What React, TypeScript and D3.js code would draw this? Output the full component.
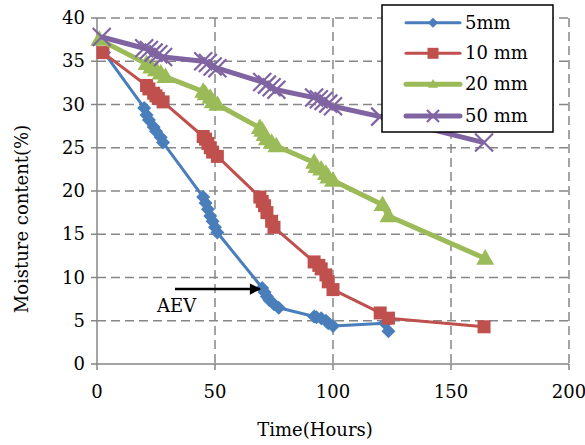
import React from "react";
import * as d3 from "d3";

// Moisture content (%) vs drying time (hours) for four slab thicknesses
const seriesNames = ["5mm", "10 mm", "20 mm", "50 mm"];
const seriesColors = ["#4a7ebb", "#c0504d", "#9bbb59", "#8064a2"];

const data5mm: [number, number][] = [
  [3, 36], [20, 29.6], [21, 28.8], [22, 28.2], [24, 27.4], [25, 26.9], [27, 26.2], [28, 25.6],
  [45, 19.3], [46, 18.6], [47, 17.9], [48, 17.1], [49, 16.5], [50, 15.8], [51, 15.2],
  [70, 8.8], [71, 8.3], [72, 7.8], [73, 7.4], [75, 6.9], [77, 6.5],
  [92, 5.5], [93, 5.4], [95, 5.3], [97, 5], [98, 4.7], [100, 4.4],
  [122, 4.7], [123.5, 3.8],
];
const data10mm: [number, number][] = [
  [2.5, 36], [21, 32.2], [22, 31.8], [24, 31.3], [25, 31], [26, 30.7], [28, 30.3],
  [45, 26.3], [46, 26], [47, 25.5], [48, 25], [49, 24.5], [51, 24],
  [69, 19.3], [70, 18.8], [71, 18.3], [72, 17.5], [74, 16.5], [75, 15.8],
  [92, 11.8], [94, 11.4], [95, 11], [97, 10.3], [98, 9.5], [100, 8.6],
  [120, 5.9], [123.5, 5.3], [164, 4.3],
];
const data20mm: [number, number][] = [
  [1, 37.5], [21, 34.7], [23, 34.3], [25, 34], [27, 33.6], [29, 33.2],
  [45, 31.5], [46, 31.2], [48, 30.8], [49, 30.3], [51, 30],
  [69, 27.3], [70, 27], [71, 26.5], [72, 26], [74, 25.6], [76, 25.2],
  [92, 23.3], [93, 22.8], [95, 22.5], [97, 22], [98, 21.6], [100, 21.2],
  [121, 18.4], [123.5, 17.1], [164.5, 12.2],
];
const data50mm: [number, number][] = [
  [2, 37.8], [20, 36.5], [22, 36.3], [24, 36], [26, 35.8], [28, 35.5],
  [45, 35], [47, 34.8], [49, 34.4], [51, 34.2],
  [70, 32.6], [72, 32.3], [74, 32], [76, 31.7],
  [92, 30.8], [94, 30.6], [96, 30.4], [98, 30.1], [100, 29.8],
  [120, 28.6], [164, 25.6],
];
const allSeries = [data5mm, data10mm, data20mm, data50mm];

const xTicks = [0, 50, 100, 150, 200];
const yTicks = [0, 5, 10, 15, 20, 25, 30, 35, 40];

const font = "'DejaVu Serif', serif";
const gridColor = "#868686";

const marker = (i: number, color: string, legend = false) => {
  if (i === 0) {
    const r = legend ? 5 : 7;
    return <path d={`M0,${-r}L${r},0L0,${r}L${-r},0Z`} fill={color} />;
  }
  if (i === 1) {
    const s = legend ? 11 : 13;
    return <rect x={-s / 2} y={-s / 2} width={s} height={s} fill={color} />;
  }
  if (i === 2) {
    const s = legend ? 10 : 18;
    const h = (s * Math.sqrt(3)) / 2;
    return <path d={`M0,${-h * 0.6}L${s / 2},${h * 0.4}L${-s / 2},${h * 0.4}Z`} fill={color} />;
  }
  const a = legend ? 6 : 9;
  return <path d={`M${-a},${-a}L${a},${a}M${-a},${a}L${a},${-a}`} stroke={color} strokeWidth={2.2} fill="none" />;
};

const lineWidths = [3, 3, 5, 5];

export default function App() {
  const width = 585;
  const height = 445;
  const left = 97;
  const right = 569;
  const top = 18;
  const bottom = 364;

  const x = d3.scaleLinear().domain([0, 200]).range([left, right]);
  const y = d3.scaleLinear().domain([0, 40]).range([bottom, top]);
  const line = d3
    .line<[number, number]>()
    .x((d) => x(d[0]))
    .y((d) => y(d[1]));

  return (
    <svg
      width={width}
      height={height}
      style={{ position: "absolute", left: 0, top: 0, background: "#fff" }}
      fontFamily={font}
    >
      {/* grid */}
      {yTicks
        .filter((t) => t > 0)
        .map((t) => (
          <line key={"gy" + t} x1={left} x2={right} y1={y(t)} y2={y(t)} stroke={gridColor} strokeWidth={1.5} strokeDasharray="9,5" />
        ))}
      {xTicks
        .filter((t) => t > 0)
        .map((t) => (
          <line key={"gx" + t} x1={x(t)} x2={x(t)} y1={top} y2={bottom} stroke={gridColor} strokeWidth={1.5} strokeDasharray="9,5" />
        ))}

      {/* axes */}
      <line x1={left} x2={left} y1={top} y2={bottom} stroke={gridColor} strokeWidth={1.5} />
      <line x1={left} x2={right} y1={bottom} y2={bottom} stroke={gridColor} strokeWidth={1.5} />
      {yTicks.map((t) => (
        <g key={"ty" + t}>
          <line x1={left - 6} x2={left} y1={y(t)} y2={y(t)} stroke={gridColor} strokeWidth={1.5} />
          <text x={left - 12} y={y(t) + 6} textAnchor="end" fontSize={18} fill="#000">
            {t}
          </text>
        </g>
      ))}
      {xTicks.map((t) => (
        <g key={"tx" + t}>
          <line x1={x(t)} x2={x(t)} y1={bottom} y2={bottom + 6} stroke={gridColor} strokeWidth={1.5} />
          <text x={x(t)} y={398} textAnchor="middle" fontSize={18} fill="#000">
            {t}
          </text>
        </g>
      ))}

      <text x={315} y={436} textAnchor="middle" fontSize={18} fill="#000">
        Time(Hours)
      </text>
      <text transform="translate(28,219) rotate(-90)" textAnchor="middle" fontSize={18} fill="#000">
        Moisture content(%)
      </text>

      {/* series */}
      {allSeries.map((s, i) => (
        <g key={"s" + i}>
          <path d={line(s) ?? ""} fill="none" stroke={seriesColors[i]} strokeWidth={lineWidths[i]} strokeLinejoin="round" />
          {s.map((d, j) => (
            <g key={j} transform={`translate(${x(d[0])},${y(d[1])})`}>
              {marker(i, seriesColors[i])}
            </g>
          ))}
        </g>
      ))}

      {/* AEV annotation */}
      <defs>
        <marker id="arrow" viewBox="0 0 10 10" refX="9" refY="5" markerWidth="5" markerHeight="4.5" orient="auto">
          <path d="M0,0L10,5L0,10Z" fill="#000" />
        </marker>
      </defs>
      <line x1={175} x2={260} y1={289} y2={289} stroke="#000" strokeWidth={2.5} markerEnd="url(#arrow)" />
      <text x={157} y={312} fontSize={18} fill="#000">
        AEV
      </text>

      {/* legend */}
      <rect x={382} y={5} width={171} height={127} fill="#fff" stroke="#000" strokeWidth={1.5} />
      {seriesNames.map((n, i) => {
        const ly = [22.7, 53.3, 84.3, 116][i];
        return (
          <g key={"l" + i}>
            <line x1={406} x2={460} y1={ly} y2={ly} stroke={seriesColors[i]} strokeWidth={lineWidths[i]} strokeLinecap="round" />
            <g transform={`translate(433,${ly})`}>{marker(i, seriesColors[i], true)}</g>
            <text x={465} y={ly + 6} fontSize={18} fill="#000">
              {n}
            </text>
          </g>
        );
      })}
    </svg>
  );
}
